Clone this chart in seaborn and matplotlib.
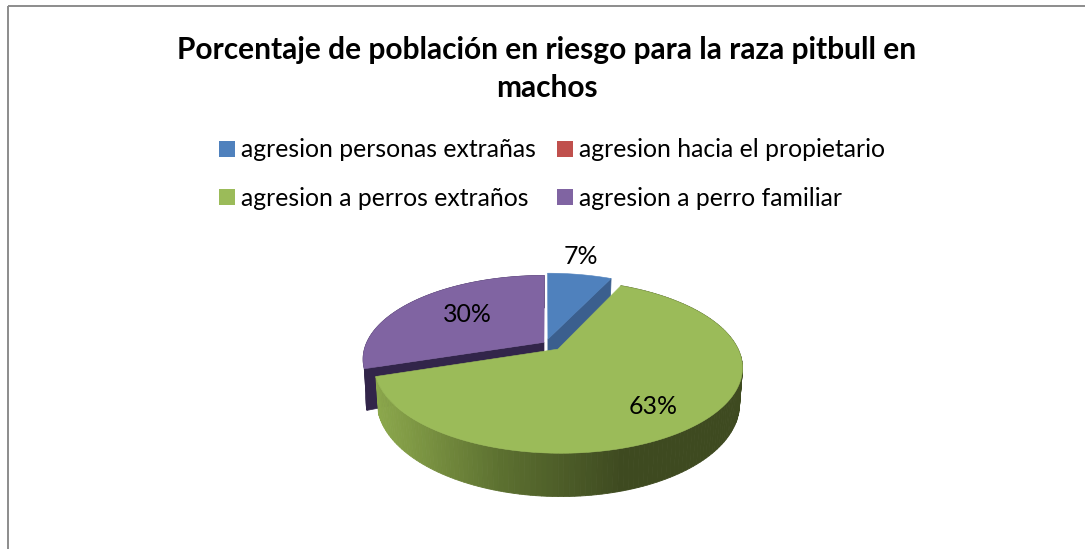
"""Pie 3D de agresion en pitbull machos (perspectiva hecha a mano)"""
import numpy as np
import matplotlib.pyplot as plt
from matplotlib.colors import LinearSegmentedColormap
from matplotlib.patches import Patch, Polygon, Rectangle
import seaborn as sns

sns.set_theme(style="white")
plt.rcParams['font.family'] = ['Lato', 'DejaVu Sans']

title = "Porcentaje de población en riesgo para la raza pitbull en\nmachos"
categories = ["agresion personas extrañas", "agresion hacia el propietario",
              "agresion a perros extraños", "agresion a perro familiar"]
values = [7, 0, 63, 30]
colors = ["#4F81BD", "#C0504D", "#9BBB59", "#8064A2"]
side_colors = ["#3B5F8E", "#943C3A", "#5C7030", "#32254A"]
explode = [0.05, 0, 0.10, 0.014]
label_pos = [(581, 257), None, (653, 406), (467, 314)]

# proyeccion en pixeles
CX, CY, RX, RY, PERSP, DEPTH = 546, 343, 177.5, 80.5, 0.2, 34
SHRINK = 0.015  # la base se encoge un poco hacia el centro


def project(u, v):
    k = 1 / (1 + PERSP * v)
    return CX + RX * u * k, CY - RY * v * k, DEPTH * k


def arc(wedge, n=160):
    t = np.radians(np.linspace(wedge.theta1, wedge.theta2, n))
    return (wedge.center[0] + wedge.r * np.cos(t),
            wedge.center[1] + wedge.r * np.sin(t))


fig, ax = plt.subplots(figsize=(10.85, 5.49), dpi=100)
ax.set_position([0, 0, 1, 1])
wedges, _ = ax.pie(values, colors=colors, explode=explode, startangle=90,
                   counterclock=False)
for w in wedges:
    w.set_visible(False)
ax.set_aspect('auto')
ax.set_xlim(0, 1085)
ax.set_ylim(549, 0)

ax.add_patch(Rectangle((8, 6), 1400, 900, fill=False, ec="#8C8C8C", lw=1.4))

side_cmap = LinearSegmentedColormap.from_list(
    "green_side", ["#8CA84C", "#5C7030", "#3E4A20", "#3E4A20"])

# orden de dibujo: morado, azul, verde
for i in [3, 0, 2]:
    w = wedges[i]
    u, v = arc(w)
    x, y, d = project(u, v)
    ax0, ay0, ad0 = project(*w.center)
    if i == 2:
        # lateral con degradado segun x
        for j in range(len(x) - 1):
            t = np.clip((x[j] - x.min()) / (x.max() - x.min()), 0, 1)
            quad = [(x[j], y[j]), (x[j + 1], y[j + 1]),
                    (x[j + 1] - SHRINK * (x[j + 1] - CX), y[j + 1] + d[j + 1]),
                    (x[j] - SHRINK * (x[j] - CX), y[j] + d[j])]
            c = side_cmap(t)
            ax.add_patch(Polygon(quad, fc=c, ec=c, lw=0.6))
    else:
        # cara del corte y lateral, color plano
        end = -1 if i == 3 else 0
        if i == 3:
            d = d * 1.15
        bx = x - SHRINK * (x - CX)
        quad = [(ax0, ay0), (x[end], y[end]), (bx[end], y[end] + d[end]),
                (ax0, ay0 + ad0)]
        ax.add_patch(Polygon(quad, fc=side_colors[i], ec=side_colors[i], lw=0.5))
        if i == 3:
            outer = np.column_stack([np.r_[x, bx[::-1]],
                                     np.r_[y, (y + d)[::-1]]])
            ax.add_patch(Polygon(outer, fc=side_colors[i], ec=side_colors[i], lw=0.5))
    top = np.column_stack([np.r_[ax0, x], np.r_[ay0, y]])
    ax.add_patch(Polygon(top, fc=colors[i], ec=colors[i], lw=0.4))

for val, pos in zip(values, label_pos):
    if pos is not None:
        ax.text(pos[0], pos[1], f"{val}%", ha="center", va="center",
                fontsize=17.9, color="black")

fig.suptitle(title, x=547 / 1085, y=1 - 36 / 549, va="top", fontsize=21.5,
             fontweight="bold", color="black", linespacing=1.42)

# ncol=2 llena por columnas
order = [0, 2, 1, 3]
handles = [Patch(fc=colors[i], ec="none", label=categories[i]) for i in order]
ax.legend(handles=handles, ncol=2, loc="upper left",
          bbox_to_anchor=(197 / 1085, 1 - 116 / 549), frameon=False,
          fontsize=17.85, handlelength=0.62, handleheight=0.62,
          handletextpad=0.25, columnspacing=0.87, labelspacing=1.04,
          borderpad=0.4, labelcolor="black")

fig.savefig("out.png", dpi=100, facecolor="white")
